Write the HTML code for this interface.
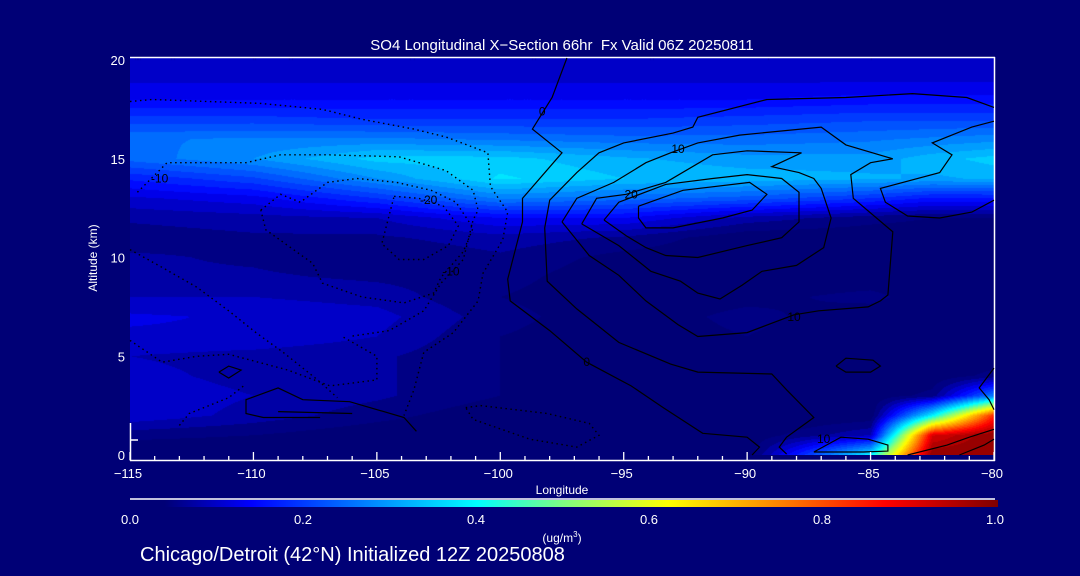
<!DOCTYPE html>
<html><head><meta charset="utf-8">
<style>
html,body{margin:0;padding:0;background:#000076;}
#wrap{position:relative;width:1080px;height:576px;background:#000076;overflow:hidden;font-family:"Liberation Sans",sans-serif;color:#fff;}
canvas{position:absolute;left:130px;top:58px;}
svg{position:absolute;left:0;top:0;}
</style></head>
<body>
<div id="wrap">
<canvas id="field" width="864" height="397"></canvas>
<svg id="ov" width="1080" height="576"></svg>
</div>
<script>
// ---- data ----
const lons = [-115,-110,-105,-100,-95,-90,-85,-82.5,-80];
const alts = [0,1,2,3,4,5,6,7,8,9,10,11,12,13,14,15,16,17,18,19,20];
const so4 = [
[0.02,0.02,0.02,0.02,0.02,0.03,0.40,1.0,1.0],
[0.06,0.05,0.03,0.02,0.02,0.03,0.10,0.92,1.0],
[0.12,0.09,0.06,0.03,0.02,0.02,0.03,0.40,0.85],
[0.12,0.10,0.08,0.05,0.02,0.02,0.03,0.06,0.28],
[0.11,0.09,0.08,0.05,0.02,0.02,0.02,0.03,0.06],
[0.10,0.09,0.08,0.05,0.03,0.02,0.02,0.02,0.03],
[0.12,0.12,0.10,0.05,0.03,0.05,0.02,0.02,0.02],
[0.13,0.12,0.11,0.06,0.03,0.06,0.03,0.02,0.02],
[0.10,0.10,0.09,0.05,0.03,0.04,0.06,0.03,0.02],
[0.08,0.08,0.07,0.06,0.03,0.03,0.03,0.03,0.03],
[0.08,0.07,0.05,0.07,0.04,0.03,0.03,0.03,0.03],
[0.06,0.07,0.07,0.09,0.07,0.03,0.03,0.03,0.03],
[0.08,0.09,0.10,0.15,0.15,0.09,0.06,0.05,0.05],
[0.12,0.14,0.20,0.28,0.26,0.24,0.20,0.17,0.17],
[0.18,0.22,0.30,0.38,0.35,0.34,0.33,0.32,0.33],
[0.26,0.30,0.36,0.36,0.33,0.31,0.31,0.34,0.36],
[0.27,0.28,0.28,0.27,0.26,0.26,0.27,0.28,0.29],
[0.21,0.21,0.20,0.20,0.20,0.21,0.22,0.22,0.22],
[0.15,0.15,0.15,0.15,0.15,0.15,0.16,0.16,0.16],
[0.12,0.12,0.12,0.12,0.12,0.12,0.12,0.12,0.12],
[0.10,0.10,0.10,0.10,0.10,0.10,0.10,0.10,0.10]
];
const xTicks = [-115,-110,-105,-100,-95,-90,-85,-80];
const yTicks = [0,5,10,15,20];
const cbTicks = ["0.0","0.2","0.4","0.6","0.8","1.0"];
// contours (lon, km)
const solidLines = [
[[-97.3,20.1],[-97.9,18.1],[-98.7,16.5],[-97.5,15.3],[-99.1,13.0],[-99.1,11.8],[-99.7,8.9],[-99.6,7.8],[-98.0,6.3],[-96.5,4.7],[-94.7,3.5],[-93.4,2.4],[-91.8,1.1],[-90.0,0.9],[-89.5,0.4],[-89.8,0]],
[[-80.0,17.6],[-81.1,18.1],[-83.3,18.3],[-86.0,18.1],[-89.2,18.0],[-92.0,17.1],[-92.2,16.6],[-93.0,16.3],[-95.0,15.8],[-96.0,15.3],[-96.9,14.3],[-98.0,12.9],[-98.2,11.5],[-98.1,8.8],[-96.9,7.4],[-95.2,5.7],[-93.1,4.6],[-92.0,4.2],[-89.0,4.1],[-88.4,3.3],[-87.3,1.9],[-88.4,0.9],[-88.7,0.4],[-88.4,0.05]],
[[-97.5,11.8],[-96.9,13.0],[-95.4,13.8],[-94.1,14.8],[-93.1,15.3],[-92.0,15.8],[-90.3,16.2],[-87.0,16.6],[-86.0,15.7],[-84.1,15.0],[-85.0,14.8],[-85.8,14.2],[-85.7,13.0],[-84.1,11.3],[-84.3,8.1],[-84.6,7.8],[-85.1,7.5],[-87.1,7.3],[-88.1,7.1],[-90.0,6.2],[-92.0,6.0],[-92.8,6.6],[-94.1,7.8],[-95.2,9.1],[-96.4,10.1],[-97.5,11.8]],
[[-96.7,11.7],[-96.1,13.0],[-94.9,13.2],[-93.3,13.8],[-91.4,15.2],[-90.0,15.4],[-87.8,15.3],[-89.0,14.6],[-87.9,14.3],[-87.3,14.0],[-87.0,13.5],[-86.6,12.0],[-86.9,10.5],[-88.0,9.6],[-89.4,9.3],[-90.2,8.6],[-91.1,7.9],[-92.0,8.2],[-92.7,8.8],[-93.9,9.3],[-95.2,10.6],[-96.7,11.7]],
[[-95.8,11.9],[-95.2,12.8],[-93.3,13.7],[-91.4,14.0],[-90.0,14.2],[-88.6,14.0],[-87.9,13.3],[-87.9,11.8],[-88.6,11.0],[-90.0,10.6],[-92.0,10.0],[-93.3,10.1],[-94.1,10.5],[-94.9,11.1],[-95.8,11.9]],
[[-94.4,12.6],[-92.6,13.4],[-89.9,13.8],[-89.2,13.2],[-89.8,12.4],[-91.0,12.0],[-93.0,11.5],[-94.1,11.5],[-94.4,12.0],[-94.4,12.6]],
[[-80.0,16.9],[-80.9,16.6],[-82.5,15.8],[-81.7,15.2],[-82.2,14.3],[-84.6,13.5],[-84.4,12.8],[-83.5,12.1],[-82.2,12.0],[-80.9,12.3],[-80.0,12.9]],
[[-86.4,4.5],[-86.0,4.9],[-84.9,4.8],[-84.6,4.5],[-85.0,4.2],[-86.0,4.2],[-86.4,4.5]],
[[-80.0,4.4],[-80.6,3.4],[-80.2,2.8],[-80.0,2.3]],
[[-83.5,0],[-81.9,0.5],[-81.0,0.9],[-80.0,1.3]],
[[-81.4,0],[-80.4,0.5],[-80.0,0.8]],
[[-87.3,0.15],[-86.2,0.9],[-85.1,0.8],[-84.3,0.5],[-84.3,0.2],[-85.3,0.15],[-87.3,0.15]],
[[-107.3,1.9],[-109.6,1.9],[-110.3,2.1],[-110.3,2.8],[-109.0,3.4],[-108.0,2.8],[-106.1,2.7],[-103.9,1.9],[-103.4,1.2]],
[[-109.0,2.2],[-106.0,2.1]],
[[-111.4,4.2],[-111.0,4.5],[-110.5,4.3],[-111.0,3.9],[-111.4,4.2]]
];
const dottedLines = [
[[-115,17.9],[-114.1,18.0],[-109.7,17.8],[-107.2,17.5],[-105.6,17.0],[-103.5,16.5],[-102.2,16.1],[-100.5,15.3],[-100.4,13.6],[-99.7,12.3],[-99.9,10.9],[-100.7,9.2],[-100.9,7.8],[-101.9,6.2],[-103.1,5.2],[-103.5,3.3],[-103.9,2.0]],
[[-114.7,13.3],[-113.9,14.3],[-113.5,14.8],[-110.3,14.8],[-108.9,15.2],[-107.0,15.2],[-104.1,15.1],[-102.2,14.4],[-101.1,13.4],[-100.9,12.4],[-101.1,11.9],[-101.5,9.9],[-102.4,8.7],[-103.1,7.3],[-104.5,6.3],[-106.1,6.0]],
[[-109.7,12.4],[-108.9,13.2],[-108.1,12.8],[-107.0,13.8],[-105.8,14.0],[-104.2,13.8],[-102.8,13.4],[-101.8,12.8],[-101.1,11.5],[-101.5,10.3],[-102.4,9.0],[-102.7,8.2],[-103.9,7.7],[-105.6,8.0],[-107.2,8.7],[-107.6,9.7],[-109.5,11.4],[-109.7,12.4]],
[[-104.3,13.1],[-103.3,13.0],[-102.3,12.6],[-101.7,11.6],[-102.1,10.6],[-103.1,9.9],[-104.1,9.9],[-104.8,10.7],[-104.3,13.1]],
[[-115,10.4],[-113.7,9.5],[-112.3,8.5],[-111.0,7.3],[-109.9,6.2],[-108.8,5.2],[-107.4,3.8],[-106.6,2.9]],
[[-115,5.8],[-113.7,4.7],[-112.3,5.0],[-111.0,5.1],[-108.6,4.3],[-106.9,3.5],[-105.0,3.8],[-105.0,5.0],[-106.4,6.0]],
[[-113.0,1.5],[-112.6,2.1],[-111.0,2.9],[-110.4,3.5]],
[[-101.4,2.4],[-100.8,2.5],[-98.1,2.1],[-96.4,1.6],[-96.0,1.0],[-96.9,0.4],[-98.8,0.8],[-101.1,1.8],[-101.4,2.4]]
];
const labelText = ["0","10","20","10","0","10","-10","-20","-10"];
const labelPos = [[-98.3,17.4],[-92.8,15.5],[-94.7,13.2],[-88.1,7.0],[-96.5,4.7],[-86.9,0.8],[-113.8,14.0],[-102.9,12.9],[-102.0,9.3]];

// ---- axes ----
const X0=130,X1=994,Y0=455,Y1=60;
const xs = v => X0 + (v+115)/35*(X1-X0);
const ys = v => Y0 - v/20*(Y0-Y1);

const stops=[[0,[0,0,118]],[0.04,[0,0,118]],[0.14,[0,0,255]],[0.40,[0,255,255]],[0.5,[128,255,128]],[0.62,[255,255,0]],[0.75,[255,128,0]],[0.87,[255,0,0]],[1.0,[128,0,0]]];
function cmap(v){
  v=Math.max(0,Math.min(1,v));
  for(let i=1;i<stops.length;i++){
    if(v<=stops[i][0]){const a=stops[i-1],b=stops[i];const t=(v-a[0])/(b[0]-a[0]||1);
      return [0,1,2].map(k=>Math.round(a[1][k]+(b[1][k]-a[1][k])*t));}
  }
  return stops[stops.length-1][1];
}
function findIdx(arr,v){for(let i=0;i<arr.length-1;i++){if(v<=arr[i+1])return i;}return arr.length-2;}
function sample(lon,z){
  const i=findIdx(lons,lon), j=findIdx(alts,z);
  const tx=Math.max(0,Math.min(1,(lon-lons[i])/(lons[i+1]-lons[i])));
  const ty=Math.max(0,Math.min(1,(z-alts[j])/(alts[j+1]-alts[j])));
  const a=so4[j][i],b=so4[j][i+1],c=so4[j+1][i],d=so4[j+1][i+1];
  return a*(1-tx)*(1-ty)+b*tx*(1-ty)+c*(1-tx)*ty+d*tx*ty;
}
const cv=document.getElementById('field'),ctx=cv.getContext('2d');
const W=cv.width,H=cv.height,img=ctx.createImageData(W,H);
for(let py=0;py<H;py++){
  const sy=58+py+0.5; const z=(Y0-sy)/(Y0-Y1)*20;
  for(let px=0;px<W;px++){
    const sx=130+px+0.5; const lon=-115+(sx-X0)/(X1-X0)*35;
    let v=z<0?0:sample(lon,z);
    v=Math.floor(v/0.025)*0.025;
    const c=cmap(v);const o=(py*W+px)*4;
    img.data[o]=c[0];img.data[o+1]=c[1];img.data[o+2]=c[2];img.data[o+3]=255;
  }
}
ctx.putImageData(img,0,0);

const NS="http://www.w3.org/2000/svg";
const svg=document.getElementById('ov');
function mk(tag,attrs,parent){const e=document.createElementNS(NS,tag);for(const k in attrs)e.setAttribute(k,attrs[k]);(parent||svg).appendChild(e);return e;}
function txt(s,x,y,size,anchor,parent){const t=mk('text',{x:x,y:y,'font-size':size,'text-anchor':anchor||'middle',fill:'#fff','font-family':'Liberation Sans, sans-serif'},parent);t.textContent=s;return t;}

const frame=mk('g',{});


mk('line',{x1:130,y1:57.5,x2:995,y2:57.5,stroke:'#fff','stroke-width':1.5},frame);
mk('line',{x1:994.5,y1:57,x2:994.5,y2:461,stroke:'#fff','stroke-width':1.5},frame);
mk('line',{x1:130,y1:460.5,x2:995,y2:460.5,stroke:'#fff','stroke-width':1.5},frame);
mk('line',{x1:130.5,y1:423,x2:130.5,y2:461,stroke:'#fff','stroke-width':1.5},frame);
mk('line',{x1:130,y1:440,x2:138,y2:440,stroke:'#fff','stroke-width':1.5},frame);

const cg=mk('g',{fill:'none',stroke:'#000'});


solidLines.forEach(l=>{
  const p=mk('polyline',{points:l.map(q=>xs(q[0]).toFixed(1)+','+ys(q[1]).toFixed(1)).join(' '),'stroke-width':1.2},cg);
  
  
});
dottedLines.forEach(l=>{
  const p=mk('polyline',{points:l.map(q=>xs(q[0]).toFixed(1)+','+ys(q[1]).toFixed(1)).join(' '),'stroke-width':1.4,'stroke-dasharray':'1.5,3.5'},cg);
  
  
});
labelText.forEach((s,i)=>{
  const t=mk('text',{x:xs(labelPos[i][0]),y:ys(labelPos[i][1])+4,'font-size':12,'text-anchor':'middle',fill:'#000',stroke:'none','font-family':'Liberation Sans, sans-serif'},cg);
  t.textContent=s;
  
  
});

const xg=mk('g',{});


for(let d=-115;d<=-80;d++){
  const major=xTicks.includes(d);
  mk('line',{x1:xs(d),y1:460,x2:xs(d),y2:major?452:456,stroke:'#fff','stroke-width':1.3},xg);
}
xTicks.forEach(v=>{const t=txt('\u2212'+Math.abs(v),xs(v)-2,478,13,'middle',xg);
  
  });
const xt=txt('Longitude',562,494,12,'middle',xg);



const yg=mk('g',{});


yTicks.forEach(v=>{const t=txt(String(v),125,ys(v)+5,13,'end',yg);
  
  });
const yt=mk('text',{x:0,y:0,'font-size':12,'text-anchor':'middle',fill:'#fff','font-family':'Liberation Sans, sans-serif',transform:'translate(97,258) rotate(-90)'},yg);
yt.textContent='Altitude (km)';



const tt=txt('SO4 Longitudinal X\u2212Section 66hr\u00a0\u00a0Fx Valid 06Z 20250811',562,50,15,'middle');



const cb=mk('g',{});


const defs=mk('defs',{});
const grad=mk('linearGradient',{id:'cbg',x1:0,x2:1,y1:0,y2:0},defs);
stops.forEach(s=>mk('stop',{offset:s[0],'stop-color':'rgb('+s[1].join(',')+')'},grad));
mk('line',{x1:130,y1:499,x2:995,y2:499,stroke:'#fff','stroke-width':1.5},cb);
mk('rect',{x:130,y:500,width:868,height:7,fill:'url(#cbg)'},cb);
cbTicks.forEach((s,i)=>{const t=txt(s,130+i*173,524,13,'middle',cb);
  
  });
const un=mk('text',{x:562,y:542,'font-size':12,'text-anchor':'middle',fill:'#fff','font-family':'Liberation Sans, sans-serif'},cb);
un.innerHTML='(ug/m<tspan dy="-5" font-size="8">3</tspan><tspan dy="5">)</tspan>';



const ft=txt('Chicago/Detroit (42\u00b0N) Initialized 12Z 20250808',140,561,20,'start');


</script>
</body></html>
